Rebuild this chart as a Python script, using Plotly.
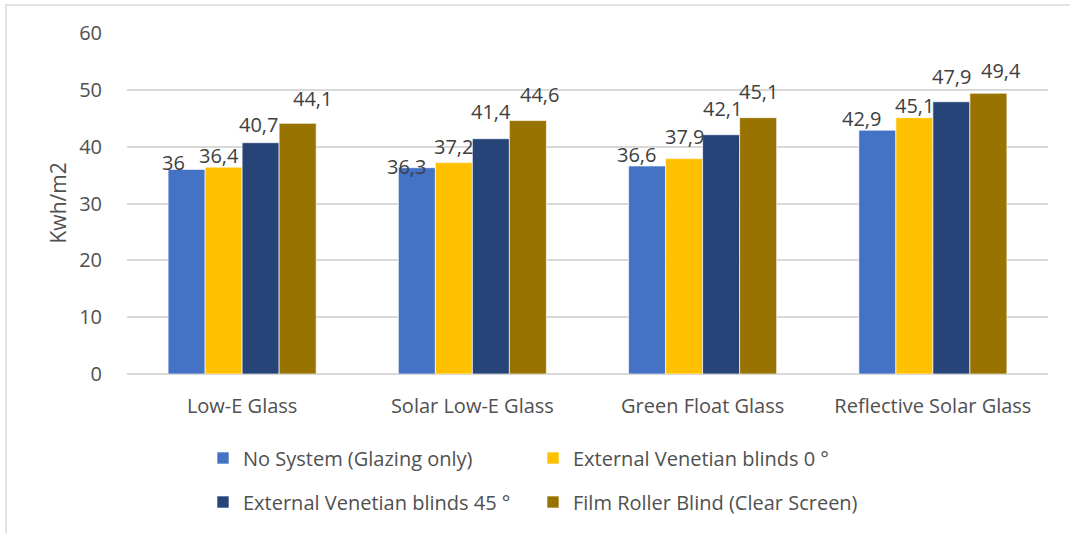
import plotly.graph_objects as go

# Glazing types and shading systems
categories = ["Low-E Glass", "Solar Low-E Glass", "Green Float Glass", "Reflective Solar Glass"]
series_names = [
    "No System (Glazing only)",
    "External Venetian blinds 0 °",
    "External Venetian blinds 45 °",
    "Film Roller Blind (Clear Screen)",
]
no_system = [36.0, 36.3, 36.6, 42.9]
venetian_0 = [36.4, 37.2, 37.9, 45.1]
venetian_45 = [40.7, 41.4, 42.1, 47.9]
film_roller = [44.1, 44.6, 45.1, 49.4]
y_ticks = [0, 10, 20, 30, 40, 50, 60]

series_values = [no_system, venetian_0, venetian_45, film_roller]
colors = ["#4472C4", "#FFC000", "#264478", "#997300"]
legend_ids = ["legend", "legend", "legend2", "legend2"]

# pixel nudges for the value labels (per series, per category)
label_dx = [[-13, -10, -11, -16], [-5, 0, 0, 0], [-2, 0, 1, 0], [15, 12, 0, 13]]
label_dy = [[7, 1, 11, 12], [12, 16, 22, 12], [18, 27, 26, 25], [25, 26, 26, 23]]

FONT = "Open Sans"
TEXT = "#505050"
GRID = "#D9D9D9"
FS = 20
W, H = 1070, 533
L, R, T, B = 127, 22, 33, 159
BARGAP = 0.357


def fmt(v):
    s = f"{v:.1f}".replace(".", ",")
    return s[:-2] if s.endswith(",0") else s


fig = go.Figure()
for name, vals, col, lg in zip(series_names, series_values, colors, legend_ids):
    fig.add_trace(go.Bar(
        x=categories, y=vals, name=name, legend=lg,
        marker=dict(color=col, line=dict(color="rgba(255,255,255,0.8)", width=0.8)),
        hoverinfo="x+y+name",
    ))

# value labels
slot = (1 - BARGAP) / len(series_values)
annotations = []
for i, vals in enumerate(series_values):
    for j, v in enumerate(vals):
        annotations.append(dict(
            x=j + (i - (len(series_values) - 1) / 2) * slot, y=v,
            xref="x", yref="y", text=fmt(v),
            showarrow=False, xanchor="center", yanchor="middle",
            xshift=label_dx[i][j], yshift=label_dy[i][j],
            font=dict(family=FONT, size=FS, color="#404040"),
        ))

plot_w = W - L - R
plot_h = H - T - B

# axis title
annotations.append(dict(
    x=(57 - L) / plot_w, y=0.5, xref="paper", yref="paper",
    text="Kwh/m2", textangle=-90, showarrow=False,
    xanchor="center", yanchor="middle",
    font=dict(family=FONT, size=21, color=TEXT),
))

# outer chart frame (left and top edges)
x0 = (6 - L) / plot_w
x1 = (W + 2 - L) / plot_w
y_top = (H - B - 5) / plot_h
y_bot = (H - B - H - 5) / plot_h
shapes = [dict(
    type="path", xref="paper", yref="paper",
    path=f"M {x0},{y_bot} L {x0},{y_top} L {x1},{y_top}",
    line=dict(color=GRID, width=1.5),
)]

legend_common = dict(
    orientation="h", xref="container", yref="container",
    xanchor="left", yanchor="middle",
    entrywidth=285, entrywidthmode="pixels",
    font=dict(family=FONT, size=FS, color=TEXT),
    bgcolor="rgba(0,0,0,0)", itemclick=False, itemdoubleclick=False,
)

fig.update_layout(
    width=W, height=H,
    margin=dict(l=L, r=R, t=T, b=B, autoexpand=False),
    paper_bgcolor="white", plot_bgcolor="white",
    barmode="group", bargap=BARGAP, bargroupgap=0,
    font=dict(family=FONT, size=FS, color=TEXT),
    annotations=annotations, shapes=shapes,
    legend=dict(x=203 / W, y=1 - 458 / H, **legend_common),
    legend2=dict(x=203 / W, y=1 - 502 / H, **legend_common),
    xaxis=dict(
        showgrid=False, showline=False, zeroline=False,
        tickfont=dict(family=FONT, size=FS, color=TEXT),
        ticks="outside", ticklen=14, tickcolor="rgba(0,0,0,0)",
    ),
    yaxis=dict(
        range=[0, 60], tickvals=y_ticks, showgrid=True, gridcolor=GRID, gridwidth=1.5,
        zeroline=True, zerolinecolor=GRID, zerolinewidth=1.5, showline=False,
        tickfont=dict(family=FONT, size=FS, color=TEXT),
        ticks="outside", ticklen=20, tickcolor="rgba(0,0,0,0)",
    ),
)

fig.write_html("out.html")
